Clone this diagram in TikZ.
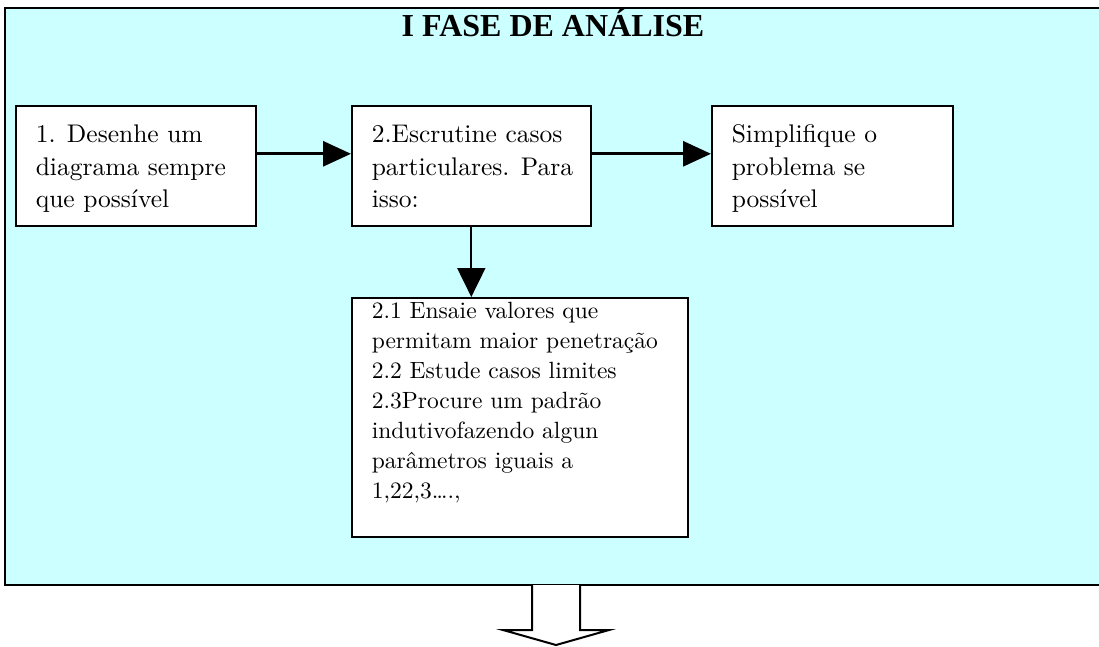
\documentclass[tikz,border=0pt]{standalone}
\usepackage{fontspec}
\newfontfamily\titlefont{Liberation Serif}
\newfontfamily\bodyfont{lmroman10-regular.otf}
\usetikzlibrary{arrows.meta}
\definecolor{phasecyan}{RGB}{204,255,255}
\newcommand{\cellbox}[3]{\parbox[c][#2pt][t]{#1pt}{\leftskip=20pt #3}}

\tikzset{
  stepbox/.style={draw, fill=white, line width=1.6pt, anchor=north west,
    inner sep=0pt, font=\bodyfont\fontsize{25.5}{32.5}\selectfont},
  substepbox/.style={stepbox, font=\bodyfont\fontsize{23.5}{30}\selectfont},
  flow/.style={line width=3pt, -{Triangle[length=28pt,width=25pt]}},
  flowdown/.style={line width=2pt, -{Triangle[length=29pt,width=28pt]}}
}

\begin{document}
\begin{tikzpicture}[x=1pt,y=-1pt]

      \useasboundingbox (0,0) rectangle (1099,646);
      \draw [fill=phasecyan,line width=2.4pt] (5,8) rectangle (1106,585);
      \node [anchor=base,font=\titlefont\bfseries\fontsize{32}{36}\selectfont] (title) at (553,36) {I FASE DE ANÁLISE};

      \node [stepbox] (draw) at (15,105) {\cellbox{240}{120}{\vspace*{14.25pt}\strut 1. Desenhe um\\ diagrama sempre\\ que possível}};
      \node [stepbox] (cases) at (351,105) {\cellbox{239}{120}{\vspace*{14.25pt}\strut 2.Escrutine casos\\ particulares. Para\\ isso:}};
      \node [stepbox] (simplify) at (711,105) {\cellbox{241}{120}{\vspace*{14.25pt}\strut Simplifique o\\ problema se\\ possível}};
      \node [substepbox] (tries) at (351,297) {\cellbox{336}{239}{\strut 2.1 Ensaie valores que\\ permitam maior penetração\\ 2.2 Estude casos limites\\ 2.3Procure um padrão\\ indutivofazendo algun\\ parâmetros iguais a\\ 1,22,3….,}};

      \draw [flow] ([yshift=12pt]draw.east) -- ([yshift=12pt]cases.west);
      \draw [flow] ([yshift=12pt]cases.east) -- ([yshift=12pt]simplify.west);
      \draw [flowdown] (cases.south) -- (cases.south |- tries.north);

      % next phase
      \draw [fill=white,line width=2pt] (532,585) -- (532,630) -- (503,630) -- (556,645) -- (609,630) -- (580,630) -- (580,585);

\end{tikzpicture}
\end{document}
